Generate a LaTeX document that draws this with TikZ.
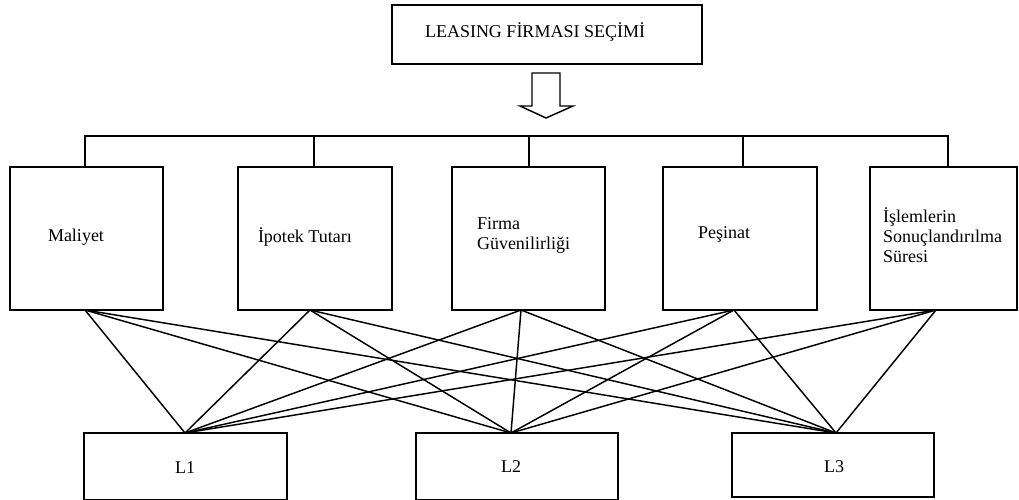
\documentclass[tikz,border=0pt]{standalone}
\usepackage{fontspec}
\setmainfont{Liberation Serif}
\begin{document}
\begin{tikzpicture}[x=0.75pt,y=-0.75pt,
  every node/.style={inner sep=0pt,outer sep=0pt,font=\fontsize{13.5}{15}\selectfont},
  box/.style={draw,line width=1.1pt},
  link/.style={line width=1.1pt},
  txt/.style={anchor=base west,align=left}]
\useasboundingbox (0,0) rectangle (1019,499);

% title and hollow arrow
\draw[box] (392,5) rectangle (702,64);
\node[txt] (title) at (425,38) {LEASING FİRMASI SEÇİMİ};
\draw[link,line join=miter] (532,73) -- (560,73) -- (560,106) -- (573,106) -- (546,118)
  -- (520,106) -- (532,106) -- cycle;

% criteria boxes
\draw[box] (10,167) rectangle (163,310);
\draw[box] (238,167) rectangle (392,310);
\draw[box] (452,167) rectangle (605,310);
\draw[box] (663,167) rectangle (817,310);
\draw[box] (870,167) rectangle (1017,310);
% multi-line labels are placed by the baseline of their last line
\node[txt] (c1) at (48,241) {Maliyet};
\node[txt] (c2) at (258,242) {İpotek Tutarı};
\node[txt] (c3) at (477,249) {Firma\\Güvenilirliği};
\node[txt] (c4) at (698,238) {Peşinat};
\node[txt] (c5) at (883,262) {İşlemlerin\\Sonuçlandırılma\\Süresi};

% tree bracket
\coordinate (t1) at (85,167);
\coordinate (t2) at (314,167);
\coordinate (t3) at (529,167);
\coordinate (t4) at (743,167);
\coordinate (t5) at (948,167);
\draw[link] (t1) -- (85,136) -- (948,136) -- (t5);
\foreach \t in {t2,t3,t4} \draw[link] (\t) -- (\t |- 0,136);

% alternatives
\draw[box] (84,433) rectangle (287,500);
\draw[box] (416,433) rectangle (618,500);
\draw[box] (732,433) rectangle (934,497);
\node[anchor=base] (a1) at (185,473) {L1};
\node[anchor=base] (a2) at (511,472) {L2};
\node[anchor=base] (a3) at (834,472) {L3};

% connection points
\coordinate (b1) at (85,310);
\coordinate (b2) at (310,310);
\coordinate (b3) at (521,310);
\coordinate (b4) at (734,310);
\coordinate (b5) at (936,310);
\coordinate (p1) at (185,433);
\coordinate (p2) at (511,433);
\coordinate (p3) at (836,433);
\foreach \b in {b1,b2,b3,b4,b5}
  \foreach \p in {p1,p2,p3}
    \draw[link] (\b) -- (\p);
\end{tikzpicture}
\end{document}
